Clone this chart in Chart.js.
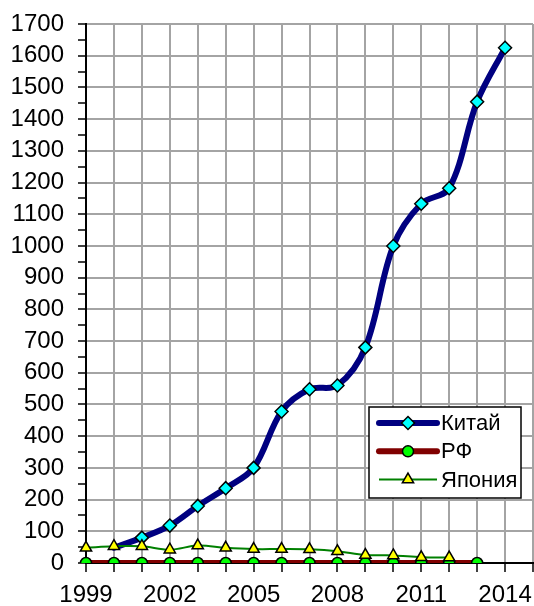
<!DOCTYPE html>
<html>
<head>
<meta charset="utf-8">
<script src="https://cdn.jsdelivr.net/npm/chart.js@4.4.0/dist/chart.umd.min.js"></script>
<style>
  html, body { margin: 0; padding: 0; background: #fff; }
  canvas { display: block; }
</style>
</head>
<body>
<canvas id="chart" width="534" height="606"></canvas>
<script>
// years on the x axis (the last one only closes the grid)
const years = ['1999', '2000', '2001', '2002', '2003', '2004', '2005', '2006',
  '2007', '2008', '2009', '2010', '2011', '2012', '2013', '2014', '2015'];
const labelYears = ['1999', '2002', '2005', '2008', '2011', '2014'];

const china = [null, 48, 80, 118, 180, 236, 300, 478, 548, 560, 680, 1000,
  1133, 1182, 1455, 1625, null];
const russia = [0, 0, 0, 0, 0, 0, 0, 0, 0, 0, 0, 0, 0, 0, 0, null, null];
const japan = [48, 53, 53, 42, 55, 48, 44, 44, 43, 37, 25, 24, 18, 17, null, null, null];

const yMin = 0;
const yMax = 1700;

const FONT = 'Arial, "Liberation Sans", sans-serif';
const GRID = '#a4a4a4';
Chart.defaults.font.family = FONT;
Chart.defaults.color = '#000';

function marker(ctx, style, x, y, r) {
  ctx.beginPath();
  if (style === 'rectRot') {
    ctx.moveTo(x, y - r);
    ctx.lineTo(x + r, y);
    ctx.lineTo(x, y + r);
    ctx.lineTo(x - r, y);
  } else if (style === 'triangle') {
    const h = r * 0.5, w = r * Math.sqrt(3) / 2;
    ctx.moveTo(x, y - r);
    ctx.lineTo(x + w, y + h);
    ctx.lineTo(x - w, y + h);
  } else {
    ctx.arc(x, y, r, 0, Math.PI * 2);
  }
  ctx.closePath();
  ctx.fill();
  ctx.stroke();
}

// legend box drawn inside the plot area, lower right
const boxLegend = {
  id: 'boxLegend',
  afterDatasetsDraw(chart) {
    const ctx = chart.ctx;
    const left = 369, top = 407, width = 152, height = 91;
    ctx.save();
    ctx.fillStyle = '#fff';
    ctx.fillRect(left, top, width, height);
    ctx.lineWidth = 1.5;
    ctx.strokeStyle = '#000';
    ctx.strokeRect(left, top, width, height);
    chart.data.datasets.forEach((ds, i) => {
      const y = top + 16 + i * 28.3;
      ctx.beginPath();
      ctx.moveTo(left + 10, y);
      ctx.lineTo(left + 68, y);
      ctx.lineWidth = ds.borderWidth;
      ctx.strokeStyle = ds.borderColor;
      ctx.lineCap = ds.borderCapStyle || 'butt';
      ctx.stroke();
      ctx.fillStyle = ds.pointBackgroundColor;
      ctx.strokeStyle = '#000';
      ctx.lineWidth = ds.pointBorderWidth;
      marker(ctx, ds.pointStyle, left + 39, y, ds.markerSize);
      ctx.fillStyle = '#000';
      ctx.font = '22px ' + FONT;
      ctx.textAlign = 'left';
      ctx.textBaseline = 'middle';
      ctx.fillText(ds.label, left + 72, y + 1);
    });
    ctx.restore();
  }
};

new Chart(document.getElementById('chart'), {
  type: 'line',
  data: {
    labels: years,
    datasets: [
      {
        label: 'Китай',
        data: china,
        borderColor: '#000080',
        borderWidth: 6,
        borderCapStyle: 'round',
        borderJoinStyle: 'round',
        tension: 0.35,
        pointStyle: 'rectRot',
        markerSize: 6.5,
        // the first China point sits under the Japan triangle
        pointRadius: (c) => c.dataIndex === 1 ? 0 : 6.5,
        pointBackgroundColor: '#00ffff',
        pointBorderColor: '#000',
        pointBorderWidth: 1.5,
        order: 1,
      },
      {
        label: 'РФ',
        data: russia,
        borderColor: '#800000',
        borderWidth: 6,
        borderCapStyle: 'round',
        tension: 0.35,
        pointStyle: 'circle',
        markerSize: 5.5,
        pointRadius: 5.5,
        pointBackgroundColor: '#00ff00',
        pointBorderColor: '#000',
        pointBorderWidth: 1.5,
        order: 2,
      },
      {
        label: 'Япония',
        data: japan,
        borderColor: '#008000',
        borderWidth: 2,
        tension: 0.35,
        pointStyle: 'triangle',
        markerSize: 6.5,
        pointRadius: 6.5,
        pointBackgroundColor: '#ffff00',
        pointBorderColor: '#000',
        pointBorderWidth: 1.5,
        order: 0,
      },
    ],
  },
  options: {
    responsive: false,
    animation: false,
    events: [],
    layout: { autoPadding: false, padding: { top: 24, right: 1, left: 0, bottom: 0 } },
    plugins: {
      legend: { display: false },
      tooltip: { enabled: false },
    },
    scales: {
      x: {
        offset: false,
        afterFit: (s) => { s.height = 43; s.paddingLeft = 0; s.paddingRight = 0; },
        ticks: {
          autoSkip: false,
          maxRotation: 0,
          padding: 9,
          font: { size: 24 },
          color: '#000',
          callback: (v, i) => labelYears.includes(years[i]) ? years[i] : '',
        },
        grid: { color: GRID, lineWidth: 2, tickColor: '#000', tickWidth: 1.5, tickLength: 9 },
        border: { color: '#000', width: 2 },
      },
      y: {
        min: yMin,
        max: yMax,
        afterFit: (s) => { s.width = 86; s.paddingTop = 0; s.paddingBottom = 0; },
        ticks: {
          stepSize: 50,
          autoSkip: false,
          padding: 14,
          font: { size: 24 },
          color: '#000',
          callback: (v) => v % 100 === 0 ? v : '',
        },
        grid: {
          color: (c) => c.tick && c.tick.value % 100 === 0 ? GRID : 'rgba(0,0,0,0)',
          lineWidth: 2,
          tickColor: '#000',
          tickWidth: 1.5,
          tickLength: 8,
        },
        border: { color: '#000', width: 2 },
      },
    },
  },
  plugins: [boxLegend],
});
</script>
</body>
</html>
